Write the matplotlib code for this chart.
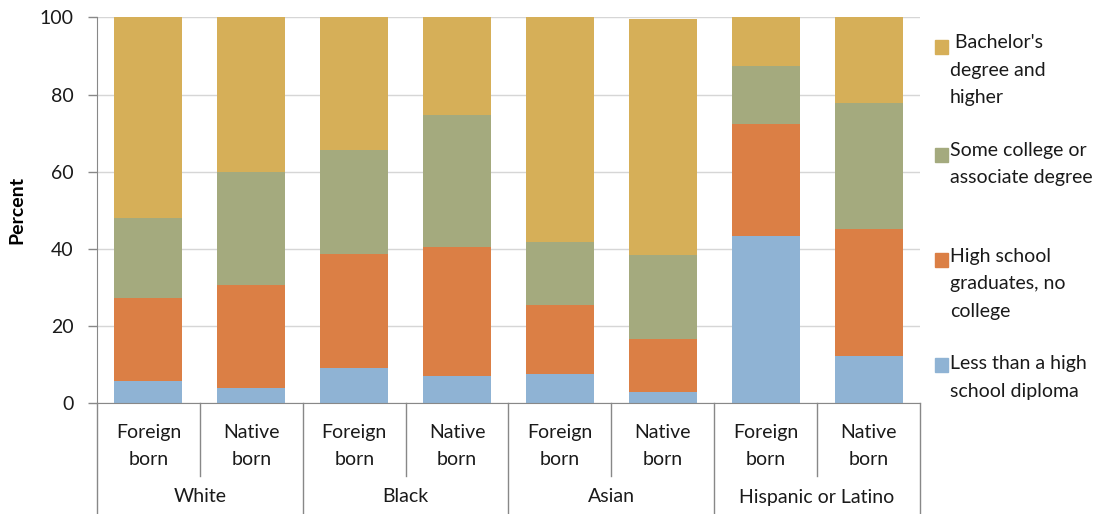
import numpy as np
import matplotlib.pyplot as plt
from matplotlib.patches import Rectangle

# Data (percent)
groups = ['White', 'Black', 'Asian', 'Hispanic or Latino']
nativity = ['Foreign\nborn', 'Native\nborn'] * 4
less_than_hs = [5.8, 3.9, 9.1, 7.1, 7.6, 2.9, 43.3, 12.3]
hs_grad = [21.6, 26.7, 29.5, 33.3, 17.9, 13.7, 29.1, 32.9]
some_college = [20.5, 29.4, 27.0, 34.3, 16.4, 21.8, 15.0, 32.7]
bachelors = [52.1, 40.0, 34.4, 25.3, 58.1, 61.2, 12.6, 22.1]

series = [less_than_hs, hs_grad, some_college, bachelors]
labels = ['Less than a high\nschool diploma', 'High school\ngraduates, no\ncollege',
          'Some college or\nassociate degree', " Bachelor's\ndegree and\nhigher"]
colors = ['#8FB3D4', '#DB7F45', '#A4AA7E', '#D6AF58']

plt.rcParams['font.family'] = ['Lato', 'DejaVu Sans']

W, H = 1103, 514
fig = plt.figure(figsize=(W / 100, H / 100), dpi=100)
ax = fig.add_axes([97 / W, (H - 403.3) / H, (920 - 97) / W, 386 / H])

x = np.arange(len(nativity))
bottom = np.zeros(len(x))
for vals, col in zip(series, colors):
    ax.bar(x, vals, width=0.66, bottom=bottom, color=col, zorder=2)
    bottom += np.array(vals)

ax.set_xlim(-0.5, len(x) - 0.5)
ax.set_ylim(0, 100)
ax.set_yticks(range(0, 101, 20))
ax.tick_params(axis='y', length=6.5, width=1, color='#888888', pad=10.5,
               labelsize=14, labelcolor='#1a1a1a')
ax.set_xticks([])
ax.yaxis.grid(True, color='#D6D6D6', linewidth=1, zorder=0)
for s in ['top', 'right']:
    ax.spines[s].set_visible(False)
ax.spines['left'].set_color('#888888')
ax.spines['bottom'].set_color('#888888')
ax.set_ylabel('Percent', fontsize=14, fontweight='bold', labelpad=10)

# category axis: two-level labels with separator lines
def yfrac(p):
    return (403.3 - p) / 386.0

trans = ax.get_xaxis_transform()
for i, lab in enumerate(nativity):
    ax.text(i, yfrac(446), lab, transform=trans, ha='center', va='center',
            fontsize=14, linespacing=1.75, color='#1a1a1a')
for g, name in enumerate(groups):
    ax.text(2 * g + 0.5, yfrac(497), name, transform=trans, ha='center',
            va='center', fontsize=14, color='#1a1a1a')
for b in np.arange(-0.5, len(x), 1.0):
    k = int(b + 0.5)
    low = yfrac(514) if k % 2 == 0 else yfrac(476)
    ax.plot([b, b], [0, low], transform=trans, color='#888888', lw=1,
            clip_on=False)

# legend drawn on the right
leg_y = [377.5, 284, 164, 70.5]
sq_y = [365, 260, 155, 47]
for lab, col, ty, sy in zip(labels, colors, leg_y, sq_y):
    fig.patches.append(Rectangle((935 / W, (H - sy - 7) / H), 13 / W, 14 / H,
                                 color=col, transform=fig.transFigure))
    fig.text(950 / W, (H - ty) / H, lab, ha='left', va='center', fontsize=14,
             linespacing=1.75, color='#1a1a1a')

fig.savefig('out.png', dpi=100)
